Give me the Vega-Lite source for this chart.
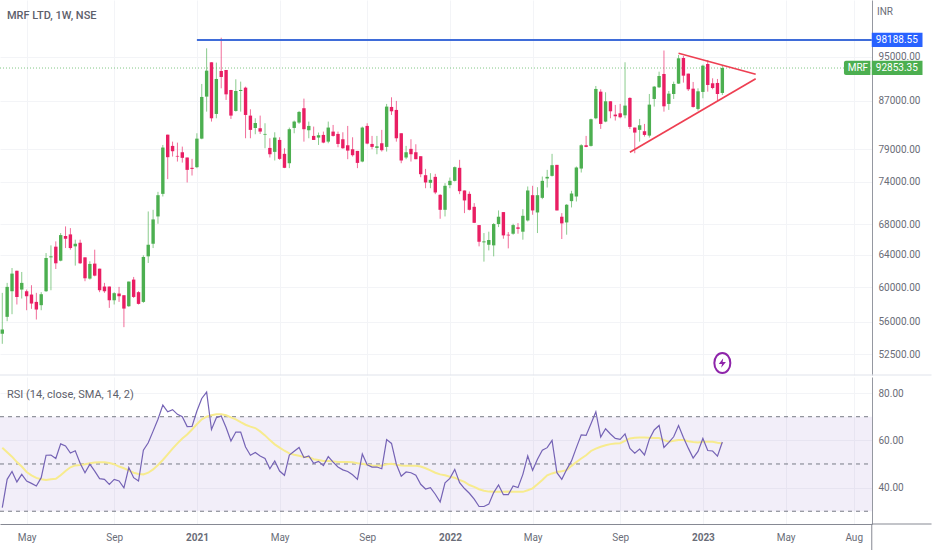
{
  "$schema": "https://vega.github.io/schema/vega-lite/v6.json",
  "background": "#ffffff",
  "padding": {"left": -2, "top": 0, "right": 0, "bottom": 0},
  "spacing": 0,
  "config": {
    "view": {"stroke": null},
    "font": "Roboto",
    "axis": {"gridColor": "#f3f4f7", "gridWidth": 1, "ticks": false, "title": null, "labelFontSize": 10, "labelColor": "#6a6d78", "domainColor": "#9598a1"},
    "title": {"font": "Roboto", "fontSize": 11, "color": "#5d606b", "fontWeight": "normal", "anchor": "start", "frame": "group"}
  },
  "datasets": {
    "weekly": [
      {"date":"2020-03-30","open":54660,"high":59310,"low":53580,"close":55130,"rsi":31.5,"ma":56.9},
      {"date":"2020-04-06","open":56540,"high":60500,"low":56050,"close":60020,"rsi":43.5,"ma":55},
      {"date":"2020-04-13","open":59500,"high":62320,"low":56840,"close":61630,"rsi":46.8,"ma":53.1},
      {"date":"2020-04-20","open":61990,"high":61990,"low":57950,"close":58830,"rsi":42.4,"ma":50.8},
      {"date":"2020-04-27","open":59700,"high":61830,"low":58640,"close":60500,"rsi":45.6,"ma":48.9},
      {"date":"2020-05-04","open":59500,"high":59700,"low":57290,"close":58910,"rsi":42.8,"ma":46.6},
      {"date":"2020-05-11","open":59110,"high":60220,"low":57450,"close":58060,"rsi":41.8,"ma":45.2},
      {"date":"2020-05-18","open":58250,"high":59310,"low":56240,"close":57370,"rsi":40.7,"ma":44.1},
      {"date":"2020-05-25","open":57870,"high":59390,"low":57290,"close":59150,"rsi":44.2,"ma":43.5},
      {"date":"2020-06-01","open":59500,"high":64210,"low":59420,"close":63580,"rsi":53.7,"ma":43.2},
      {"date":"2020-06-08","open":63660,"high":65200,"low":59620,"close":63790,"rsi":53.8,"ma":43.5},
      {"date":"2020-06-15","open":65030,"high":65720,"low":62200,"close":62910,"rsi":52.3,"ma":43.7},
      {"date":"2020-06-22","open":63240,"high":66820,"low":63160,"close":66550,"rsi":58.5,"ma":45.2},
      {"date":"2020-06-29","open":66420,"high":67710,"low":64850,"close":66070,"rsi":57.6,"ma":47},
      {"date":"2020-07-06","open":66640,"high":67480,"low":64640,"close":64850,"rsi":54.6,"ma":48.6},
      {"date":"2020-07-13","open":65070,"high":65940,"low":62620,"close":65410,"rsi":55.6,"ma":49.4},
      {"date":"2020-07-20","open":65540,"high":65940,"low":62830,"close":62910,"rsi":50.3,"ma":49.6},
      {"date":"2020-07-27","open":63660,"high":63660,"low":60700,"close":61060,"rsi":46.3,"ma":49.9},
      {"date":"2020-08-03","open":61020,"high":63160,"low":60900,"close":62830,"rsi":49.9,"ma":50.3},
      {"date":"2020-08-10","open":62870,"high":64640,"low":61300,"close":61380,"rsi":47,"ma":50.6},
      {"date":"2020-08-17","open":62240,"high":62240,"low":59390,"close":59620,"rsi":43.8,"ma":50.7},
      {"date":"2020-08-24","open":60060,"high":60500,"low":59310,"close":59500,"rsi":43.5,"ma":50.7},
      {"date":"2020-08-31","open":60060,"high":60060,"low":57560,"close":58440,"rsi":41.4,"ma":50.4},
      {"date":"2020-09-07","open":58440,"high":59390,"low":57950,"close":59270,"rsi":43.5,"ma":49.9},
      {"date":"2020-09-14","open":59230,"high":60020,"low":58250,"close":58910,"rsi":42.8,"ma":48.9},
      {"date":"2020-09-21","open":59030,"high":59030,"low":55390,"close":57480,"rsi":39.9,"ma":48.2},
      {"date":"2020-09-28","open":57750,"high":60660,"low":57670,"close":60660,"rsi":48.5,"ma":47.3},
      {"date":"2020-10-05","open":60900,"high":61220,"low":58710,"close":58830,"rsi":44.2,"ma":46.3},
      {"date":"2020-10-12","open":59390,"high":59500,"low":57950,"close":58020,"rsi":42.8,"ma":45.8},
      {"date":"2020-10-19","open":58250,"high":63920,"low":58140,"close":63710,"rsi":55.8,"ma":45.6},
      {"date":"2020-10-26","open":63790,"high":69760,"low":62950,"close":65280,"rsi":59,"ma":46.3},
      {"date":"2020-11-02","open":65410,"high":69990,"low":64850,"close":68660,"rsi":63.9,"ma":47.7},
      {"date":"2020-11-09","open":69070,"high":72540,"low":68070,"close":72060,"rsi":68.9,"ma":49.6},
      {"date":"2020-11-16","open":72250,"high":79650,"low":71870,"close":79240,"rsi":74.9,"ma":51.7},
      {"date":"2020-11-23","open":81300,"high":81300,"low":74400,"close":77730,"rsi":72.1,"ma":54.1},
      {"date":"2020-11-30","open":79500,"high":80180,"low":77830,"close":78660,"rsi":73,"ma":56.5},
      {"date":"2020-12-07","open":77930,"high":80020,"low":77060,"close":77830,"rsi":71,"ma":58.7},
      {"date":"2020-12-14","open":78500,"high":79390,"low":76900,"close":77630,"rsi":70,"ma":60.8},
      {"date":"2020-12-21","open":77680,"high":77680,"low":73910,"close":75790,"rsi":65.8,"ma":62.5},
      {"date":"2020-12-28","open":76100,"high":77470,"low":74940,"close":75940,"rsi":65.9,"ma":64.6},
      {"date":"2021-01-04","open":76200,"high":81530,"low":76050,"close":80660,"rsi":72.4,"ma":66.8},
      {"date":"2021-01-11","open":80660,"high":89950,"low":80560,"close":87650,"rsi":77.7,"ma":68.9},
      {"date":"2021-01-18","open":87710,"high":96570,"low":85120,"close":92370,"rsi":80.4,"ma":70},
      {"date":"2021-01-25","open":93920,"high":93920,"low":83450,"close":84000,"rsi":64.6,"ma":70.6},
      {"date":"2021-02-01","open":84730,"high":93860,"low":84000,"close":90850,"rsi":69.6,"ma":71},
      {"date":"2021-02-08","open":92310,"high":98640,"low":89170,"close":91210,"rsi":70.3,"ma":71},
      {"date":"2021-02-15","open":92490,"high":92490,"low":87130,"close":88110,"rsi":65.4,"ma":70.6},
      {"date":"2021-02-22","open":88880,"high":88880,"low":83890,"close":84450,"rsi":59.7,"ma":69.7},
      {"date":"2021-03-01","open":85240,"high":90790,"low":85120,"close":88700,"rsi":63.5,"ma":68.9},
      {"date":"2021-03-08","open":88700,"high":90370,"low":85120,"close":88880,"rsi":63.5,"ma":67.7},
      {"date":"2021-03-15","open":89290,"high":89470,"low":80720,"close":84560,"rsi":57.2,"ma":66.6},
      {"date":"2021-03-22","open":84450,"high":85520,"low":80720,"close":82080,"rsi":53.7,"ma":65.8},
      {"date":"2021-03-29","open":82400,"high":84000,"low":81370,"close":83230,"rsi":54.9,"ma":65.2},
      {"date":"2021-04-05","open":82350,"high":84450,"low":81420,"close":81800,"rsi":53.4,"ma":63.8},
      {"date":"2021-04-12","open":81300,"high":83170,"low":79130,"close":81420,"rsi":52.3,"ma":62.1},
      {"date":"2021-04-19","open":79180,"high":80720,"low":77680,"close":78190,"rsi":48,"ma":60.1},
      {"date":"2021-04-26","open":78560,"high":81690,"low":77220,"close":80830,"rsi":51.3,"ma":58.3},
      {"date":"2021-05-03","open":80450,"high":80880,"low":77320,"close":77470,"rsi":47,"ma":56.9},
      {"date":"2021-05-10","open":78250,"high":79130,"low":76050,"close":76100,"rsi":45.2,"ma":55.6},
      {"date":"2021-05-17","open":76800,"high":82460,"low":76050,"close":82190,"rsi":53.8,"ma":54.5},
      {"date":"2021-05-24","open":82400,"high":83620,"low":81530,"close":83450,"rsi":55.4,"ma":53.9},
      {"date":"2021-05-31","open":83280,"high":85240,"low":83060,"close":85070,"rsi":57,"ma":53.5},
      {"date":"2021-06-07","open":85700,"high":87360,"low":80180,"close":82190,"rsi":52.7,"ma":53},
      {"date":"2021-06-14","open":82020,"high":83450,"low":80720,"close":82730,"rsi":53.4,"ma":53},
      {"date":"2021-06-21","open":81100,"high":82620,"low":80450,"close":80450,"rsi":50.3,"ma":52},
      {"date":"2021-06-28","open":80830,"high":81640,"low":79650,"close":81210,"rsi":51.1,"ma":51.7},
      {"date":"2021-07-05","open":81260,"high":81800,"low":79920,"close":80030,"rsi":49.3,"ma":51.3},
      {"date":"2021-07-12","open":80180,"high":83450,"low":79920,"close":82460,"rsi":53.1,"ma":51.3},
      {"date":"2021-07-19","open":81800,"high":82890,"low":80990,"close":81100,"rsi":50.8,"ma":51.1},
      {"date":"2021-07-26","open":81420,"high":81800,"low":79290,"close":79810,"rsi":48.7,"ma":50.8},
      {"date":"2021-08-02","open":80560,"high":81690,"low":79030,"close":79130,"rsi":47.5,"ma":50.8},
      {"date":"2021-08-09","open":79600,"high":82730,"low":77420,"close":78760,"rsi":46.8,"ma":50.8},
      {"date":"2021-08-16","open":78970,"high":80880,"low":77830,"close":78040,"rsi":45.4,"ma":50.7},
      {"date":"2021-08-23","open":78710,"high":78710,"low":76050,"close":76850,"rsi":43.5,"ma":50.3},
      {"date":"2021-08-30","open":77060,"high":82620,"low":76950,"close":82460,"rsi":54.2,"ma":50.1},
      {"date":"2021-09-06","open":82730,"high":83170,"low":79760,"close":79870,"rsi":49.7,"ma":49.7},
      {"date":"2021-09-13","open":79810,"high":81100,"low":78970,"close":79340,"rsi":48.7,"ma":49.4},
      {"date":"2021-09-20","open":79180,"high":81100,"low":78190,"close":79440,"rsi":48.7,"ma":49.2},
      {"date":"2021-09-27","open":79920,"high":82080,"low":78610,"close":78820,"rsi":48,"ma":49.4},
      {"date":"2021-10-04","open":79340,"high":86440,"low":78610,"close":85980,"rsi":60.3,"ma":49.9},
      {"date":"2021-10-11","open":85920,"high":87590,"low":84560,"close":85180,"rsi":58.7,"ma":50.1},
      {"date":"2021-10-18","open":85410,"high":86960,"low":80180,"close":80720,"rsi":49.9,"ma":49.7},
      {"date":"2021-10-25","open":81530,"high":81530,"low":76800,"close":77220,"rsi":44.8,"ma":49.4},
      {"date":"2021-11-01","open":77680,"high":79500,"low":77420,"close":78500,"rsi":46.6,"ma":49.2},
      {"date":"2021-11-08","open":79030,"high":80560,"low":77060,"close":78190,"rsi":46.3,"ma":49.2},
      {"date":"2021-11-15","open":78500,"high":79760,"low":77420,"close":77420,"rsi":45.2,"ma":49.2},
      {"date":"2021-11-22","open":77880,"high":77880,"low":74690,"close":75140,"rsi":41.4,"ma":48.9},
      {"date":"2021-11-29","open":74990,"high":75940,"low":73070,"close":73910,"rsi":39.4,"ma":48.2},
      {"date":"2021-12-06","open":73860,"high":75290,"low":73070,"close":74300,"rsi":40,"ma":47.3},
      {"date":"2021-12-13","open":74740,"high":75190,"low":72210,"close":72450,"rsi":37.2,"ma":46.3},
      {"date":"2021-12-20","open":72110,"high":72210,"low":68750,"close":69990,"rsi":33.9,"ma":45.6},
      {"date":"2021-12-27","open":69990,"high":73810,"low":69070,"close":73420,"rsi":42,"ma":45.2},
      {"date":"2022-01-03","open":73520,"high":74640,"low":73070,"close":74150,"rsi":43.9,"ma":44.6},
      {"date":"2022-01-10","open":74150,"high":76300,"low":74050,"close":76200,"rsi":47.7,"ma":44.2},
      {"date":"2022-01-17","open":76100,"high":77320,"low":72210,"close":72640,"rsi":42.1,"ma":43.2},
      {"date":"2022-01-24","open":72740,"high":72740,"low":69530,"close":71310,"rsi":39.6,"ma":42.4},
      {"date":"2022-01-31","open":72250,"high":72590,"low":69900,"close":69990,"rsi":37.6,"ma":41.1},
      {"date":"2022-02-07","open":70410,"high":70930,"low":68160,"close":68200,"rsi":35.1,"ma":40.3},
      {"date":"2022-02-14","open":67890,"high":67890,"low":65070,"close":65670,"rsi":32,"ma":39.3},
      {"date":"2022-02-21","open":65590,"high":66820,"low":63120,"close":65720,"rsi":32,"ma":38.7},
      {"date":"2022-02-28","open":65280,"high":67000,"low":64550,"close":65900,"rsi":33,"ma":38.3},
      {"date":"2022-03-07","open":65200,"high":68160,"low":63790,"close":68030,"rsi":37.9,"ma":38.2},
      {"date":"2022-03-14","open":68030,"high":69900,"low":67620,"close":69030,"rsi":41.1,"ma":38.2},
      {"date":"2022-03-21","open":69670,"high":69670,"low":66070,"close":66510,"rsi":37,"ma":38.2},
      {"date":"2022-03-28","open":66600,"high":66950,"low":64810,"close":66510,"rsi":37,"ma":38.3},
      {"date":"2022-04-04","open":66730,"high":68070,"low":66600,"close":67890,"rsi":40.7,"ma":38.2},
      {"date":"2022-04-11","open":67580,"high":68160,"low":66730,"close":67390,"rsi":40,"ma":38.2},
      {"date":"2022-04-18","open":67000,"high":70080,"low":65940,"close":69160,"rsi":45.6,"ma":38.2},
      {"date":"2022-04-25","open":68520,"high":73320,"low":68380,"close":72740,"rsi":53.4,"ma":38.9},
      {"date":"2022-05-02","open":72060,"high":73420,"low":69300,"close":69900,"rsi":47.3,"ma":39.7},
      {"date":"2022-05-09","open":69620,"high":73220,"low":66820,"close":72060,"rsi":52,"ma":41.4},
      {"date":"2022-05-16","open":71680,"high":74790,"low":71490,"close":74150,"rsi":55.8,"ma":43.2},
      {"date":"2022-05-23","open":74500,"high":75790,"low":73170,"close":74740,"rsi":56.9,"ma":45.2},
      {"date":"2022-05-30","open":74890,"high":78250,"low":74790,"close":76500,"rsi":60,"ma":46},
      {"date":"2022-06-06","open":76550,"high":76550,"low":69900,"close":69900,"rsi":46.3,"ma":46.6},
      {"date":"2022-06-13","open":69030,"high":69530,"low":66030,"close":68120,"rsi":43.5,"ma":46.9},
      {"date":"2022-06-20","open":68250,"high":70790,"low":66600,"close":70700,"rsi":47.7,"ma":47.4},
      {"date":"2022-06-27","open":71210,"high":72690,"low":70320,"close":72300,"rsi":51.3,"ma":49.2},
      {"date":"2022-07-04","open":71870,"high":76300,"low":71160,"close":76150,"rsi":56.9,"ma":50.8},
      {"date":"2022-07-11","open":75990,"high":79760,"low":75390,"close":79600,"rsi":62.3,"ma":52.3},
      {"date":"2022-07-18","open":79600,"high":81100,"low":79290,"close":79340,"rsi":62.1,"ma":53.7},
      {"date":"2022-07-25","open":79500,"high":83950,"low":79390,"close":83840,"rsi":67,"ma":55.5},
      {"date":"2022-08-01","open":84000,"high":89590,"low":83840,"close":89060,"rsi":72.1,"ma":56.5},
      {"date":"2022-08-08","open":88580,"high":89000,"low":82240,"close":83060,"rsi":61.4,"ma":57.3},
      {"date":"2022-08-15","open":83450,"high":88470,"low":83340,"close":86900,"rsi":64.9,"ma":57.9},
      {"date":"2022-08-22","open":86900,"high":86900,"low":84000,"close":85180,"rsi":62.7,"ma":58.4},
      {"date":"2022-08-29","open":84620,"high":86260,"low":83620,"close":84340,"rsi":60.8,"ma":58.7},
      {"date":"2022-09-05","open":84840,"high":86440,"low":84000,"close":84170,"rsi":60.4,"ma":58.8},
      {"date":"2022-09-12","open":84500,"high":93920,"low":84000,"close":86150,"rsi":62.7,"ma":59.8},
      {"date":"2022-09-19","open":87480,"high":87590,"low":82240,"close":82570,"rsi":56.6,"ma":60.8},
      {"date":"2022-09-26","open":82460,"high":82460,"low":78350,"close":81640,"rsi":54.6,"ma":61.1},
      {"date":"2022-10-03","open":82080,"high":83890,"low":80180,"close":82840,"rsi":56.3,"ma":61.2},
      {"date":"2022-10-10","open":81860,"high":83060,"low":80990,"close":81260,"rsi":53.8,"ma":61.2},
      {"date":"2022-10-17","open":81150,"high":88170,"low":80830,"close":86320,"rsi":60.5,"ma":61.1},
      {"date":"2022-10-24","open":87300,"high":89590,"low":85980,"close":89470,"rsi":64.4,"ma":61},
      {"date":"2022-10-31","open":89350,"high":92180,"low":89230,"close":91390,"rsi":66.3,"ma":61},
      {"date":"2022-11-07","open":91760,"high":96150,"low":85120,"close":86030,"rsi":57,"ma":60.1},
      {"date":"2022-11-14","open":86440,"high":88700,"low":85410,"close":88230,"rsi":59.1,"ma":59.4},
      {"date":"2022-11-21","open":88170,"high":90370,"low":87300,"close":89950,"rsi":61.5,"ma":59.8},
      {"date":"2022-11-28","open":90010,"high":95300,"low":89950,"close":94670,"rsi":66.3,"ma":60.1},
      {"date":"2022-12-05","open":94730,"high":95110,"low":90190,"close":91450,"rsi":61.2,"ma":60.1},
      {"date":"2022-12-12","open":91820,"high":91820,"low":88700,"close":89000,"rsi":56.7,"ma":59.6},
      {"date":"2022-12-19","open":89110,"high":90310,"low":85800,"close":85920,"rsi":52.5,"ma":59.3},
      {"date":"2022-12-26","open":85580,"high":89170,"low":85300,"close":88640,"rsi":55.3,"ma":59.1},
      {"date":"2023-01-02","open":88530,"high":93480,"low":87420,"close":93290,"rsi":60.8,"ma":59.4},
      {"date":"2023-01-09","open":93600,"high":94350,"low":88580,"close":89770,"rsi":55.7,"ma":59.4},
      {"date":"2023-01-16","open":90070,"high":90970,"low":89000,"close":89230,"rsi":55.5,"ma":59.4},
      {"date":"2023-01-23","open":90130,"high":90850,"low":87010,"close":88170,"rsi":53.3,"ma":59},
      {"date":"2023-01-30","open":88350,"high":93290,"low":88000,"close":92853.35,"rsi":59.3,"ma":58.7}
    ],
    "upper_trend": [
      {"date":"2022-11-28","price":95620},
      {"date":"2023-03-19","price":91700}
    ],
    "lower_trend": [
      {"date":"2022-09-19","price":78490},
      {"date":"2023-03-19","price":90900}
    ],
    "resistance": [
      {"date":"2021-01-04","date2":"2023-09-02","price":98188.55}
    ],
    "last_price": [
      {"price":92853.35}
    ],
    "event": [
      {"date":"2023-01-30","price":51570}
    ],
    "price_frame": [
      {"date":"2020-03-26T17:00:00Z","date2":"2023-11-27","price":50350}
    ],
    "rsi_frame": [
      {"date":"2023-09-02","date2":"2023-11-27","rsi":24.6,"rsi2":24.6},
      {"date":"2023-09-02","date2":"2023-09-02","rsi":24.6,"rsi2":13.2}
    ],
    "levels": [{"rsi":70},{"rsi":50},{"rsi":30}]
  },
  "vconcat": [
    {
      "width": 872,
      "height": 375,
      "title": {"text": "MRF LTD, 1W, NSE", "offset": -21, "dx": 7, "fontWeight": 500},
      "encoding": {
        "x": {
          "field": "date",
          "type": "temporal",
          "scale": {"type": "utc", "padding": 0, "domain": ["2020-03-26T17:00:00Z", "2023-09-02T08:00:00Z"]},
          "axis": {
            "labels": false,
            "domain": false,
            "grid": true,
            "values": ["2020-05-04", "2020-09-07", "2021-01-04", "2021-05-03", "2021-09-06", "2022-01-03", "2022-05-02", "2022-09-05", "2023-01-02", "2023-05-01", "2023-08-07"]
          }
        },
        "y": {
          "field": "price",
          "type": "quantitative",
          "scale": {"type": "log", "domain": [50350, 106340], "nice": false},
          "axis": {
            "orient": "right",
            "grid": true,
            "values": [95000, 87000, 79000, 74000, 68000, 64000, 60000, 56000, 52500],
            "format": ".2f",
            "labelPadding": 6,
            "minExtent": 60,
            "maxExtent": 60
          }
        }
      },
      "layer": [
        {
          "data": {"name": "price_frame"},
          "mark": {"type": "rule", "color": "#e0e3eb"},
          "encoding": {"x2": {"field": "date2"}}
        },
        {
          "data": {"name": "last_price"},
          "mark": {"type": "rule", "color": "#4caf50", "strokeDash": [1, 2], "opacity": 0.7},
          "encoding": {"x": {"value": 0}, "x2": {"value": 872}}
        },
        {
          "data": {"name": "weekly"},
          "mark": {"type": "rule", "opacity": 0.65},
          "encoding": {
            "y": {"field": "high", "type": "quantitative"},
            "y2": {"field": "low"},
            "color": {"condition": {"test": "datum.close >= datum.open", "value": "#4caf50"}, "value": "#e91e63"}
          }
        },
        {
          "data": {"name": "weekly"},
          "mark": {"type": "bar", "width": 3.4},
          "encoding": {
            "y": {"field": "open", "type": "quantitative"},
            "y2": {"field": "close"},
            "color": {"condition": {"test": "datum.close >= datum.open", "value": "#4caf50"}, "value": "#e91e63"}
          }
        },
        {
          "data": {"name": "resistance"},
          "mark": {"type": "rule", "color": "#3f6cd9", "strokeWidth": 2},
          "encoding": {"x2": {"field": "date2"}}
        },
        {
          "data": {"name": "upper_trend"},
          "mark": {"type": "line", "color": "#ee3f52", "strokeWidth": 1.7},
          "encoding": {}
        },
        {
          "data": {"name": "lower_trend"},
          "mark": {"type": "line", "color": "#ee3f52", "strokeWidth": 1.7},
          "encoding": {}
        },
        {
          "data": {"name": "event"},
          "mark": {"type": "point", "shape": "M0,-1 A0.8,1 0 1,1 0,1 A0.8,1 0 1,1 0,-1 Z", "size": 400, "filled": false, "stroke": "#8e24aa", "strokeWidth": 2, "opacity": 1},
          "encoding": {}
        },
        {
          "data": {"name": "event"},
          "mark": {"type": "point", "shape": "M0.15,-0.8 L-0.6,0.15 L-0.05,0.15 L-0.2,0.8 L0.6,-0.15 L0.05,-0.15 Z", "size": 144, "filled": true, "fill": "#8e24aa", "opacity": 1},
          "encoding": {}
        },
        {
          "data": {"values": [{"date": "2023-09-02", "date2": "2023-11-14", "price": 99600, "price2": 96830}]},
          "mark": {"type": "rect", "color": "#2962ff"},
          "encoding": {"x2": {"field": "date2"}, "y2": {"field": "price2"}}
        },
        {
          "data": {"values": [{"date": "2023-07-24", "date2": "2023-08-31", "price": 94230, "price2": 91580}]},
          "mark": {"type": "rect", "color": "#4caf50", "cornerRadiusTopLeft": 2, "cornerRadiusBottomLeft": 2},
          "encoding": {"x2": {"field": "date2"}, "y2": {"field": "price2"}}
        },
        {
          "data": {"values": [{"date": "2023-09-02", "date2": "2023-11-14", "price": 94230, "price2": 91580}]},
          "mark": {"type": "rect", "color": "#4caf50"},
          "encoding": {"x2": {"field": "date2"}, "y2": {"field": "price2"}}
        },
        {
          "data": {"values": [
            {"date": "2023-10-08", "price": 98188.55, "label": "98188.55"},
            {"date": "2023-10-08", "price": 92853.35, "label": "92853.35"},
            {"date": "2023-08-13", "price": 92853.35, "label": "MRF"}
          ]},
          "mark": {"type": "text", "color": "#ffffff", "fontSize": 10, "align": "center", "baseline": "middle"},
          "encoding": {"text": {"field": "label"}}
        },
        {
          "data": {"values": [{"date": "2023-09-21", "price": 103830, "label": "INR"}]},
          "mark": {"type": "text", "color": "#6a6d78", "fontSize": 10, "align": "center", "baseline": "middle"},
          "encoding": {"text": {"field": "label"}}
        }
      ]
    },
    {
      "width": 872,
      "height": 147,
      "title": {"text": "RSI (14, close, SMA, 14, 2)", "offset": -23, "dx": 7},
      "encoding": {
        "x": {
          "field": "date",
          "type": "temporal",
          "scale": {"type": "utc", "padding": 0, "domain": ["2020-03-26T17:00:00Z", "2023-09-02T08:00:00Z"]},
          "axis": {
            "grid": true,
            "values": ["2020-05-04", "2020-09-07", "2021-01-04", "2021-05-03", "2021-09-06", "2022-01-03", "2022-05-02", "2022-09-05", "2023-01-02", "2023-05-01", "2023-08-07"],
            "labelExpr": "utcmonth(datum.value) == 0 ? utcFormat(datum.value, '%Y') : utcFormat(datum.value, '%b')",
            "labelFontWeight": {"condition": {"test": "utcmonth(datum.value) == 0", "value": "bold"}, "value": "normal"},
            "labelPadding": 8,
            "minExtent": 27,
            "maxExtent": 27,
            "domainColor": "#868993"
          }
        },
        "y": {
          "field": "rsi",
          "type": "quantitative",
          "scale": {"domain": [24.6, 86.8], "nice": false},
          "axis": {
            "orient": "right",
            "grid": true,
            "values": [80, 60, 40],
            "format": ".2f",
            "labelPadding": 6,
            "minExtent": 60,
            "maxExtent": 60
          }
        }
      },
      "layer": [
        {
          "data": {"values": [{"rsi": 70, "rsi2": 30}]},
          "mark": {"type": "rect", "color": "#7e57c2", "opacity": 0.1},
          "encoding": {"x": {"value": 0}, "x2": {"value": 872}, "y2": {"field": "rsi2"}}
        },
        {
          "data": {"name": "levels"},
          "mark": {"type": "rule", "color": "#787b86", "strokeDash": [4, 4]},
          "encoding": {"x": {"value": 0}, "x2": {"value": 872}}
        },
        {
          "data": {"name": "weekly"},
          "mark": {"type": "line", "color": "#f7eb8e", "strokeWidth": 2},
          "encoding": {"y": {"field": "ma", "type": "quantitative"}}
        },
        {
          "data": {"name": "weekly"},
          "mark": {"type": "line", "color": "#7563b5", "strokeWidth": 1.2},
          "encoding": {}
        },
        {
          "data": {"name": "rsi_frame"},
          "mark": {"type": "rule", "color": "#868993"},
          "encoding": {"x2": {"field": "date2"}, "y2": {"field": "rsi2"}}
        }
      ]
    }
  ]
}
